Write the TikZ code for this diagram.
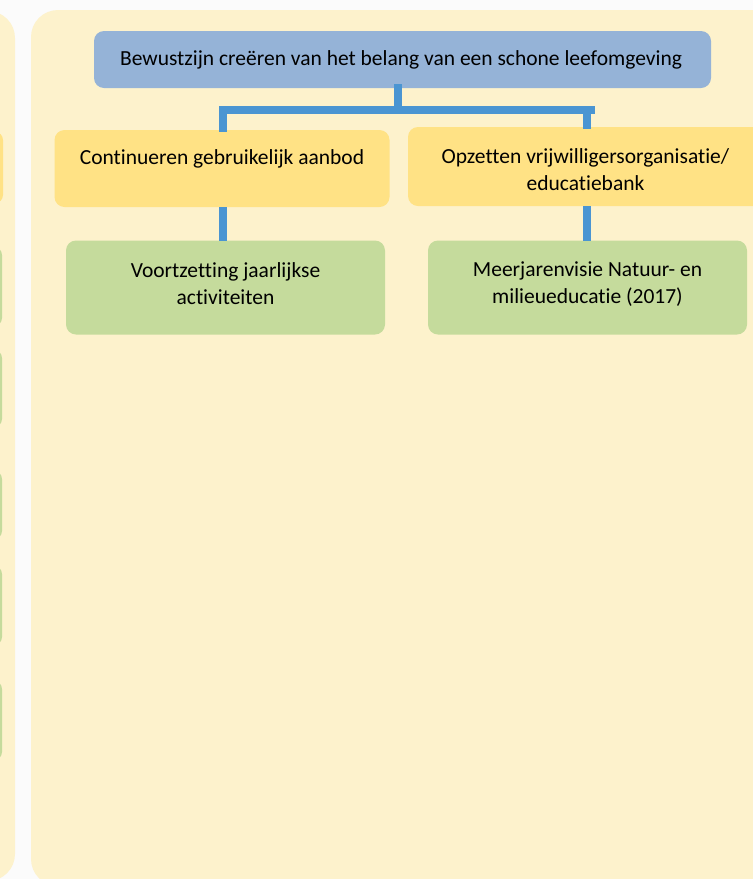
\documentclass[tikz,border=0pt]{standalone}
\usepackage{fontspec}
\setmainfont[Ligatures=NoCommon]{Carlito}
\usetikzlibrary{positioning}
\definecolor{pagebg}{HTML}{FBFBFB}
\definecolor{panel}{HTML}{FDF2CC}
\definecolor{bluebox}{HTML}{95B3D7}
\definecolor{yellowbox}{HTML}{FFE285}
\definecolor{greenbox}{HTML}{C5DB9C}
\definecolor{conn}{HTML}{4A95D2}
\tikzset{
  panelbox/.style={fill=panel, draw=none, rounded corners=27pt},
  boxbase/.style={draw=none, rounded corners=10pt, inner sep=0pt, align=center, text=black, font=\fontsize{21.5}{27.5}\selectfont},
  lbl/.style={inner sep=0pt, align=center, text=black, font=\fontsize{21.5}{27}\selectfont},
  connector/.style={draw=conn, line width=8pt, line cap=rect}
}
\begin{document}
\begin{tikzpicture}[x=1pt,y=-1pt]
\useasboundingbox (0,0) rectangle (753,879);
\fill[pagebg] (0,0) rectangle (753,879);
% left panel (partially visible)
\fill[panelbox] (-60,11) rectangle (15,881);
\fill[yellowbox, rounded corners=8pt] (-60,132) rectangle (3,203);
\foreach \a/\b in {247/326, 350/427, 471/539, 566/645, 681/760}
  \fill[greenbox, rounded corners=8pt] (-60,\a) rectangle (2,\b);
% right panel
\fill[panelbox] (31,10) rectangle (800,886);
% nodes
\node[boxbase, fill=bluebox, minimum width=617pt, minimum height=57pt] (top) at (402.5,59.5) {};
\node[lbl] at (401,59.5) {Bewustzijn creëren van het belang van een schone leefomgeving};
\node[boxbase, fill=yellowbox, minimum width=335pt, minimum height=77pt] (y1) at (222,168.5) {};
\node[lbl] at (222,159) {Continueren gebruikelijk aanbod};
\node[boxbase, fill=yellowbox, minimum width=355pt, minimum height=79pt] (y2) at (585.5,166.5) {};
\node[lbl] at (585.5,169.5) {Opzetten vrijwilligersorganisatie/\\educatiebank};
\node[boxbase, fill=greenbox, minimum width=319pt, minimum height=94pt] (g1) at (225.5,287.5) {};
\node[lbl] at (225.5,284) {Voortzetting jaarlijkse\\activiteiten};
\node[boxbase, fill=greenbox, minimum width=319pt, minimum height=94pt] (g2) at (587.5,287.5) {};
\node[lbl] at (587.5,284) {Meerjarenvisie Natuur- en\\milieueducatie (2017)};
% connectors
\draw[connector] (top.south -| 398,0) -- (398,110) coordinate (hub);
\draw[connector] (223,110) -- (591,110);
\draw[connector] (223,110) -- (223,128);
\draw[connector] (587,110) -- (587,125);
\draw[connector, line cap=butt] (y1.south -| 223,0) -- (223,241);
\draw[connector, line cap=butt] (y2.south -| 587,0) -- (587,241);
\end{tikzpicture}
\end{document}
